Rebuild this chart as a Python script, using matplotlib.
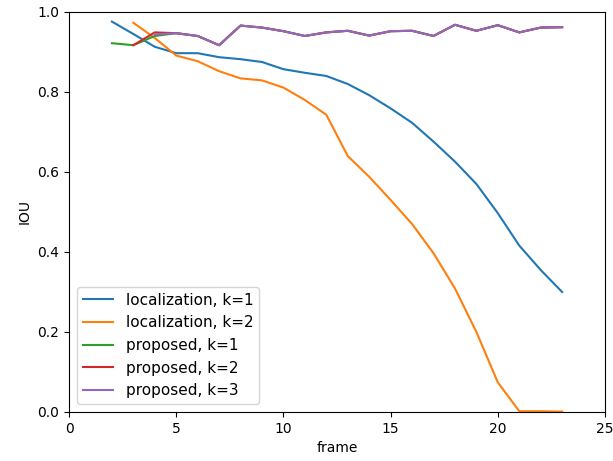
import numpy as np
import matplotlib.pyplot as plt

# IOU per frame
loc_k1_frames = list(range(2, 24))
loc_k1_iou = [0.976, 0.945, 0.913, 0.897, 0.897, 0.887, 0.882, 0.875, 0.857, 0.848,
              0.840, 0.820, 0.792, 0.759, 0.723, 0.676, 0.626, 0.570, 0.497, 0.416,
              0.355, 0.300]

loc_k2_frames = list(range(3, 24))
loc_k2_iou = [0.973, 0.935, 0.891, 0.877, 0.852, 0.834, 0.829, 0.811, 0.780, 0.743,
              0.640, 0.588, 0.530, 0.470, 0.397, 0.309, 0.200, 0.074, 0.002, 0.002,
              0.001]

# shared tail of the proposed method (frames 5..23)
prop_tail = [0.947, 0.940, 0.917, 0.966, 0.961, 0.952, 0.940, 0.949, 0.953, 0.941,
             0.952, 0.953, 0.940, 0.968, 0.953, 0.967, 0.949, 0.961, 0.962]

prop_k1_frames = list(range(2, 24))
prop_k1_iou = [0.922, 0.917, 0.940] + prop_tail

prop_k2_frames = list(range(3, 24))
prop_k2_iou = [0.917, 0.949] + prop_tail

prop_k3_frames = list(range(4, 24))
prop_k3_iou = [0.944] + prop_tail

fig = plt.figure(figsize=(6.13, 4.61), dpi=100)
ax = fig.add_axes([0.1126, 0.1063, 0.8744, 0.8677])

ax.plot(loc_k1_frames, loc_k1_iou, label="localization, k=1")
ax.plot(loc_k2_frames, loc_k2_iou, label="localization, k=2")
ax.plot(prop_k1_frames, prop_k1_iou, label="proposed, k=1")
ax.plot(prop_k2_frames, prop_k2_iou, label="proposed, k=2")
ax.plot(prop_k3_frames, prop_k3_iou, label="proposed, k=3")

ax.set_xlim(0, 25)
ax.set_ylim(0, 1)
ax.set_xlabel("frame")
ax.set_ylabel("IOU")
ax.legend(loc="lower left", fontsize=11)

fig.savefig("out.png", dpi=100)
